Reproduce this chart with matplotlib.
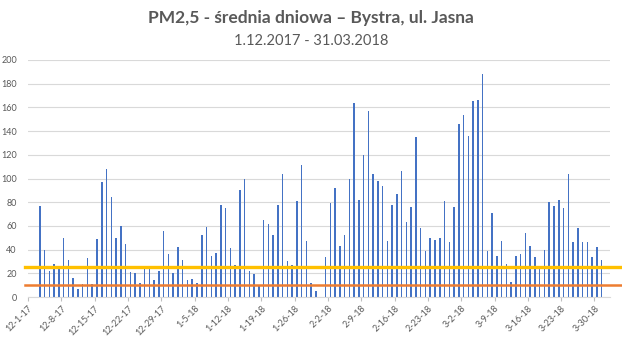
import numpy as np
import pandas as pd
import matplotlib
matplotlib.use("Agg")
import matplotlib.pyplot as plt

# daily PM2.5 means, 1.12.2017 - 31.03.2018 (None = no data)
dates = pd.date_range("2017-12-01", "2018-03-31", freq="D")
pm25 = [
    None, None, 77, 40, 22, 28, 24, 50, 31, 16,
    7, 11, 33, 11, 49, 97, 108, 84, 50, 60,
    45, 21, 20, 12, 24, 26, 14, 22, 56, 36,
    20, 42, 31, 14, 15, 12, 52, 59, 35, 37,
    78, 75, 41, 27, 90, 100, 22, 19, 10, 65,
    62, 52, 78, 104, 30, 27, 81, 111, 47, 12,
    5, None, 34, 79, 92, 43, 52, 100, 164, 82,
    120, 157, 104, 98, 94, 47, 78, 87, 106, 63,
    76, 135, 58, 39, 50, 48, 50, 81, 46, 76,
    146, 154, 136, 165, 166, 188, 39, 71, 35, 47,
    28, 13, 35, 36, 54, 43, 34, 25, 40, 80,
    77, 82, 75, 104, 46, 58, 46, 46, 34, 42,
    31,
]
limit_24h = 25   # yellow line
limit_year = 10  # orange line

tick_days = list(range(0, len(dates), 7))
tick_labels = [f"{dates[i].month}-{dates[i].day}-{dates[i].strftime('%y')}" for i in tick_days]

plt.rcParams['font.family'] = ['Lato', 'DejaVu Sans']
grey = '#595959'

fig = plt.figure(figsize=(6.22, 3.44), dpi=100)
ax = fig.add_axes([0.045, 0.1366, 0.936, 0.689])

x = np.arange(len(pm25)) + 0.5
y = np.array([np.nan if v is None else v for v in pm25], dtype=float)
ax.bar(x, np.nan_to_num(y), width=0.32, color='#4472C4', zorder=2)

ax.axhline(limit_24h, xmin=-0.005, xmax=1.03, color='#FFC000', lw=2.4, clip_on=False, zorder=3)
ax.axhline(limit_year, xmin=-0.005, xmax=1.03, color='#ED7D31', lw=1.8, clip_on=False, zorder=3)

ax.set_xlim(0, 122.3)
ax.set_ylim(0, 200)
ax.set_yticks(range(0, 201, 20))
ax.grid(axis='y', color='#D9D9D9', lw=0.8, zorder=0)
ax.set_xticks(tick_days)
ax.set_xticklabels(tick_labels, rotation=45, ha='right', rotation_mode='anchor')
ax.tick_params(axis='x', length=3, color='#BFBFBF', labelsize=6.5, labelcolor=grey, pad=2)
ax.tick_params(axis='y', length=0, labelsize=6.5, labelcolor=grey, pad=8)
for s in ['top', 'right', 'left']:
    ax.spines[s].set_visible(False)
ax.spines['bottom'].set_color('#D9D9D9')

fig.text(0.5, 0.947, "PM2,5 - średnia dniowa – Bystra, ul. Jasna", ha='center', va='center',
         fontsize=12.5, fontweight='bold', color=grey)
fig.text(0.5, 0.88, "1.12.2017 - 31.03.2018", ha='center', va='center',
         fontsize=10.5, color=grey)

fig.savefig('out.png', dpi=100)
